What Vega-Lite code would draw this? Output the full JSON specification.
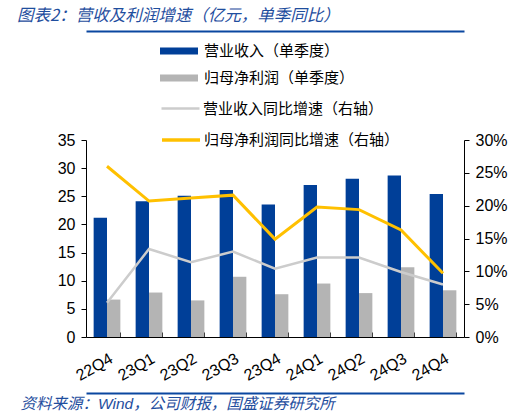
{
  "$schema": "https://vega.github.io/schema/vega-lite/v6.json",
  "autosize": {"type": "none"},
  "width": 378,
  "height": 197,
  "padding": {"left": 86, "top": 140, "right": 62, "bottom": 81},
  "background": "white",
  "config": {
    "font": "Liberation Sans, Noto Sans CJK SC",
    "view": {"stroke": null},
    "legend": {"padding": 0}
  },
  "title": {
    "text": "图表2：营收及利润增速（亿元，单季同比）",
    "anchor": "start",
    "frame": "group",
    "dx": -69,
    "offset": 7,
    "font": "Noto Sans CJK SC",
    "fontSize": 16.5,
    "fontStyle": "italic",
    "fontWeight": "normal",
    "color": "#1f4e9e"
  },
  "datasets": {
    "bars": [
      {"quarter": "22Q4", "series": "营业收入（单季度）", "value": 21.2},
      {"quarter": "22Q4", "series": "归母净利润（单季度）", "value": 6.65},
      {"quarter": "23Q1", "series": "营业收入（单季度）", "value": 24.1},
      {"quarter": "23Q1", "series": "归母净利润（单季度）", "value": 7.9},
      {"quarter": "23Q2", "series": "营业收入（单季度）", "value": 25.1},
      {"quarter": "23Q2", "series": "归母净利润（单季度）", "value": 6.5},
      {"quarter": "23Q3", "series": "营业收入（单季度）", "value": 26.1},
      {"quarter": "23Q3", "series": "归母净利润（单季度）", "value": 10.7},
      {"quarter": "23Q4", "series": "营业收入（单季度）", "value": 23.55},
      {"quarter": "23Q4", "series": "归母净利润（单季度）", "value": 7.6},
      {"quarter": "24Q1", "series": "营业收入（单季度）", "value": 27.0},
      {"quarter": "24Q1", "series": "归母净利润（单季度）", "value": 9.5},
      {"quarter": "24Q2", "series": "营业收入（单季度）", "value": 28.1},
      {"quarter": "24Q2", "series": "归母净利润（单季度）", "value": 7.8},
      {"quarter": "24Q3", "series": "营业收入（单季度）", "value": 28.7},
      {"quarter": "24Q3", "series": "归母净利润（单季度）", "value": 12.4},
      {"quarter": "24Q4", "series": "营业收入（单季度）", "value": 25.4},
      {"quarter": "24Q4", "series": "归母净利润（单季度）", "value": 8.3}
    ],
    "lines": [
      {"quarter": "22Q4", "series": "营业收入同比增速（右轴）", "growth": 0.052},
      {"quarter": "23Q1", "series": "营业收入同比增速（右轴）", "growth": 0.134},
      {"quarter": "23Q2", "series": "营业收入同比增速（右轴）", "growth": 0.114},
      {"quarter": "23Q3", "series": "营业收入同比增速（右轴）", "growth": 0.130},
      {"quarter": "23Q4", "series": "营业收入同比增速（右轴）", "growth": 0.104},
      {"quarter": "24Q1", "series": "营业收入同比增速（右轴）", "growth": 0.121},
      {"quarter": "24Q2", "series": "营业收入同比增速（右轴）", "growth": 0.121},
      {"quarter": "24Q3", "series": "营业收入同比增速（右轴）", "growth": 0.099},
      {"quarter": "24Q4", "series": "营业收入同比增速（右轴）", "growth": 0.080},
      {"quarter": "22Q4", "series": "归母净利润同比增速（右轴）", "growth": 0.260},
      {"quarter": "23Q1", "series": "归母净利润同比增速（右轴）", "growth": 0.207},
      {"quarter": "23Q2", "series": "归母净利润同比增速（右轴）", "growth": 0.2115},
      {"quarter": "23Q3", "series": "归母净利润同比增速（右轴）", "growth": 0.216},
      {"quarter": "23Q4", "series": "归母净利润同比增速（右轴）", "growth": 0.149},
      {"quarter": "24Q1", "series": "归母净利润同比增速（右轴）", "growth": 0.198},
      {"quarter": "24Q2", "series": "归母净利润同比增速（右轴）", "growth": 0.194},
      {"quarter": "24Q3", "series": "归母净利润同比增速（右轴）", "growth": 0.163},
      {"quarter": "24Q4", "series": "归母净利润同比增速（右轴）", "growth": 0.097}
    ]
  },
  "layer": [
    {
      "data": {"name": "bars"},
      "mark": {"type": "bar"},
      "encoding": {
        "x": {
          "field": "quarter",
          "type": "nominal",
          "sort": null,
          "scale": {"paddingInner": 0.364, "paddingOuter": 0.182},
          "axis": {
            "orient": "bottom",
            "title": "资料来源：Wind，公司财报，国盛证券研究所",
            "titleX": -66,
            "titleY": 66,
            "titleAlign": "left",
            "titleBaseline": "middle",
            "titleAnchor": null,
            "titleFont": "Liberation Sans, Noto Sans CJK SC",
            "titleFontSize": 15.5,
            "titleFontStyle": "italic",
            "titleFontWeight": "normal",
            "titleColor": "#1f4e9e",
            "labelAngle": -30,
            "labelFontSize": 16,
            "labelColor": "#000000",
            "labelPadding": 18,
            "tickBand": "extent",
            "tickSize": -5,
            "tickColor": "#000000",
            "domainColor": "#000000",
            "grid": false
          }
        },
        "xOffset": {
          "field": "series",
          "type": "nominal",
          "sort": ["营业收入（单季度）", "归母净利润（单季度）"],
          "scale": {"paddingInner": 0, "paddingOuter": 0}
        },
        "y": {
          "field": "value",
          "type": "quantitative",
          "scale": {"domain": [0, 35], "nice": false},
          "axis": {
            "title": null,
            "orient": "left",
            "values": [0, 5, 10, 15, 20, 25, 30, 35],
            "grid": false,
            "labelFontSize": 16,
            "labelColor": "#000000",
            "tickColor": "#000000",
            "domainColor": "#000000",
            "tickSize": 5,
            "labelPadding": 6
          }
        },
        "color": {
          "field": "series",
          "type": "nominal",
          "scale": {
            "domain": ["营业收入（单季度）", "归母净利润（单季度）"],
            "range": ["#003f98", "#b4b4b4"]
          },
          "legend": {
            "title": null,
            "orient": "none",
            "legendX": 74,
            "legendY": -108,
            "symbolType": "M-1,-0.18H1V0.18H-1Z",
            "symbolSize": 1444,
            "symbolStrokeWidth": 0,
            "labelFont": "Noto Sans CJK SC",
            "labelFontSize": 15,
            "labelColor": "#000000",
            "labelLimit": 300,
            "labelOffset": 6,
            "rowPadding": -7
          }
        }
      }
    },
    {
      "data": {"name": "lines"},
      "transform": [{"filter": "datum.series === '营业收入同比增速（右轴）'"}],
      "mark": {"type": "line", "strokeWidth": 2.5},
      "encoding": {
        "x": {
          "field": "quarter",
          "type": "nominal",
          "sort": null,
          "axis": {
            "orient": "top",
            "offset": -253,
            "title": null,
            "labels": false,
            "ticks": false,
            "grid": false,
            "domainColor": "#0a47a0",
            "domainWidth": 2,
            "encode": {"domain": {
              "update": {"x": {"signal": "-81"}, "x2": {"signal": "width + 57"}}
            }}
          }
        },
        "y": {
          "field": "growth",
          "type": "quantitative",
          "scale": {"domain": [0, 0.3], "nice": false},
          "axis": {
            "title": null,
            "orient": "right",
            "format": ".0%",
            "values": [0, 0.05, 0.1, 0.15, 0.2, 0.25, 0.3],
            "grid": false,
            "labelFontSize": 16,
            "labelColor": "#000000",
            "tickColor": "#000000",
            "domainColor": "#000000",
            "tickSize": 5,
            "labelPadding": 6
          }
        },
        "color": {
          "field": "series",
          "type": "nominal",
          "scale": {"domain": ["营业收入同比增速（右轴）"], "range": ["#cccccc"]},
          "legend": {
            "title": null,
            "orient": "none",
            "legendX": 74,
            "legendY": -52,
            "symbolType": "stroke",
            "symbolSize": 1444,
            "symbolStrokeWidth": 2.5,
            "labelFont": "Noto Sans CJK SC",
            "labelFontSize": 15,
            "labelColor": "#000000",
            "labelLimit": 300,
            "labelOffset": 2
          }
        }
      }
    },
    {
      "data": {"name": "lines"},
      "transform": [{"filter": "datum.series === '归母净利润同比增速（右轴）'"}],
      "mark": {"type": "line", "strokeWidth": 3},
      "encoding": {
        "x": {
          "field": "quarter",
          "type": "nominal",
          "sort": null,
          "axis": {
            "orient": "top",
            "offset": 109,
            "title": null,
            "labels": false,
            "ticks": false,
            "grid": false,
            "domainColor": "#0a47a0",
            "domainWidth": 2,
            "encode": {"domain": {
              "update": {"x": {"signal": "-81"}, "x2": {"signal": "width + 57"}}
            }}
          }
        },
        "y": {
          "field": "growth",
          "type": "quantitative",
          "scale": {"domain": [0, 0.3], "nice": false},
          "axis": null
        },
        "color": {
          "field": "series",
          "type": "nominal",
          "scale": {"domain": ["归母净利润同比增速（右轴）"], "range": ["#ffc000"]},
          "legend": {
            "title": null,
            "orient": "none",
            "legendX": 74,
            "legendY": -21,
            "symbolType": "stroke",
            "symbolSize": 1444,
            "symbolStrokeWidth": 3.5,
            "labelFont": "Noto Sans CJK SC",
            "labelFontSize": 15,
            "labelColor": "#000000",
            "labelLimit": 300,
            "labelOffset": 2
          }
        }
      }
    }
  ],
  "resolve": {
    "scale": {"y": "independent", "color": "independent"},
    "axis": {"x": "independent"}
  }
}
